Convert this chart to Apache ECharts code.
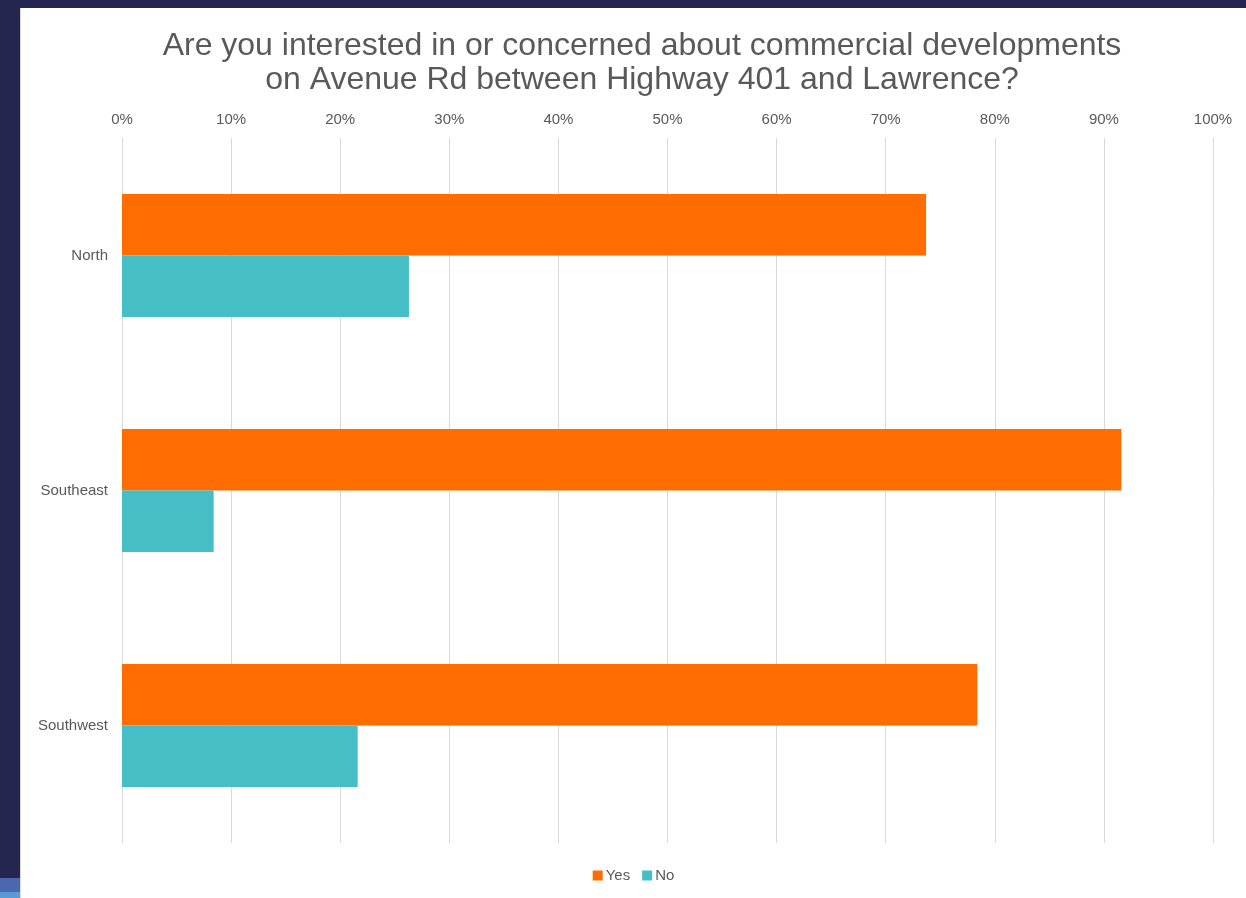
<!DOCTYPE html>
<html>
<head>
<meta charset="utf-8">
<script src="https://cdn.jsdelivr.net/npm/echarts@6/dist/echarts.min.js"></script>
<style>
  html, body { margin: 0; padding: 0; width: 1246px; height: 898px; overflow: hidden; background: #25264f; }
  #frame { position: absolute; left: 20px; top: 8px; width: 1226px; height: 890px; background: #ffffff; border-left: 1px solid #d9d9d9; box-sizing: border-box; }
  #chart { position: absolute; left: 0; top: 0; width: 1225px; height: 890px; }
  #s1 { position: absolute; left: 0; top: 878px; width: 20px; height: 14px; background: #4a67b0; }
  #s2 { position: absolute; left: 0; top: 892px; width: 20px; height: 6px; background: #5b9bd5; }
</style>
</head>
<body>
<div id="frame"><div id="chart"></div></div>
<div id="s1"></div><div id="s2"></div>
<script>
const titleText = 'Are you interested in or concerned about commercial developments\non Avenue Rd between Highway 401 and Lawrence?';
const categories = ['North', 'Southeast', 'Southwest'];
const yesValues = [73.7, 91.6, 78.4];
const noValues = [26.3, 8.4, 21.6];
const seriesNames = ['Yes', 'No'];

const chart = echarts.init(document.getElementById('chart'));
const textColor = '#595959';
const ff = "'Liberation Sans', Arial, sans-serif";
chart.setOption({
  animation: false,
  title: {
    text: titleText,
    left: 616,
    textAlign: 'center',
    top: 16,
    textStyle: { fontFamily: ff, fontSize: 32, fontWeight: 'normal', color: textColor, lineHeight: 34, align: 'center' }
  },
  legend: {
    data: seriesNames,
    bottom: 10,
    left: 'center',
    itemWidth: 10,
    itemHeight: 10,
    itemGap: 12,
    icon: 'rect',
    textStyle: { fontFamily: ff, fontSize: 15, color: textColor, padding: [0, 0, 0, -2] }
  },
  grid: { left: 101, right: 33, top: 130, height: 705, containLabel: false },
  xAxis: {
    type: 'value',
    position: 'top',
    min: 0,
    max: 100,
    interval: 10,
    axisLine: { show: false },
    axisTick: { show: false },
    axisLabel: { formatter: '{value}%', color: textColor, fontSize: 15, fontFamily: ff, margin: 11 },
    splitLine: { lineStyle: { color: '#d9d9d9', width: 1 } }
  },
  yAxis: {
    type: 'category',
    data: categories,
    inverse: true,
    axisLine: { show: false },
    axisTick: { show: false },
    axisLabel: { color: textColor, fontSize: 15, fontFamily: ff, margin: 14 }
  },
  series: [
    { name: seriesNames[0], type: 'bar', data: yesValues, barWidth: 61.5, barGap: '0%', itemStyle: { color: '#ff6d00' } },
    { name: seriesNames[1], type: 'bar', data: noValues, barWidth: 61.5, barGap: '0%', itemStyle: { color: '#45bec6' } }
  ]
});
</script>
</body>
</html>
